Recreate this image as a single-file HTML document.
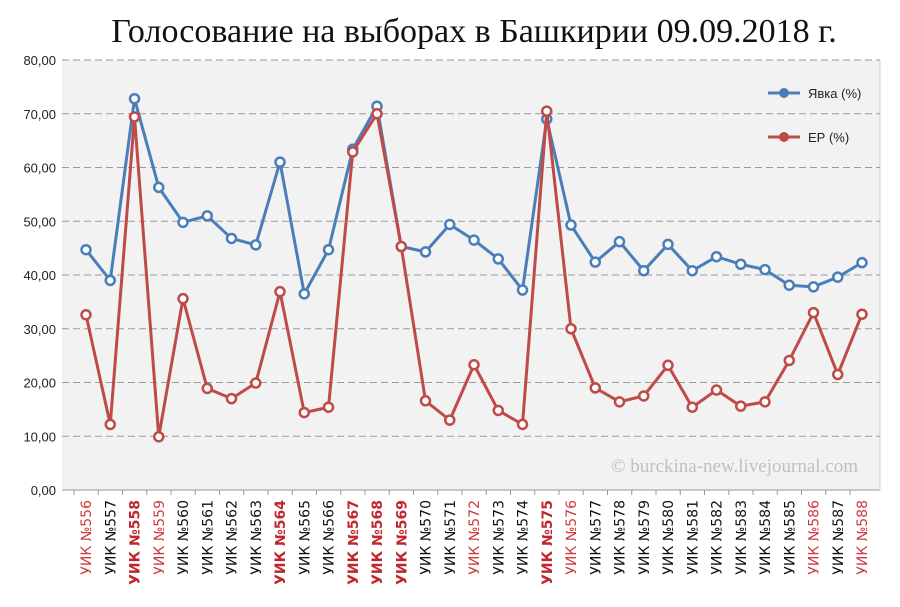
<!DOCTYPE html>
<html><head><meta charset="utf-8"><style>
body{margin:0;background:#fff;width:900px;height:602px;overflow:hidden}
svg{font-family:"Liberation Sans","DejaVu Sans",sans-serif}
</style></head><body>
<svg id="c" width="900" height="602">
<text x="474" y="42" text-anchor="middle" font-family="Liberation Serif, serif" font-size="34" fill="#111">Голосование на выборах в Башкирии 09.09.2018 г.</text>
<rect x="62" y="60" width="818" height="430" fill="#f2f2f2"/>
<line x1="880" y1="60" x2="880" y2="490" stroke="#d0d0d0"/>
<g id="grid"></g><g id="xl"></g><g id="lines"></g>
<text x="858" y="472" text-anchor="end" font-family="Liberation Serif, serif" font-size="19" fill="#c0c0c0">© burckina-new.livejournal.com</text>
<g>
<line x1="768" y1="93" x2="800" y2="93" stroke="#4a7ebb" stroke-width="3"/><circle cx="784" cy="93" r="5" fill="#4a7ebb"/>
<text x="808" y="98" font-size="13" fill="#222">Явка (%)</text>
<line x1="768" y1="137" x2="800" y2="137" stroke="#be4b48" stroke-width="3"/><circle cx="784" cy="137" r="5" fill="#be4b48"/>
<text x="808" y="142" font-size="13" fill="#222">ЕР (%)</text>
</g>
</svg>
<script>
const categories=[556,557,558,559,560,561,562,563,564,565,566,567,568,569,570,571,572,573,574,575,576,577,578,579,580,581,582,583,584,585,586,587,588];
const turnout=[44.7,39,72.8,56.3,49.8,51,46.8,45.6,61,36.5,44.7,63.4,71.4,45.3,44.3,49.4,46.5,43,37.2,69,49.3,42.4,46.2,40.8,45.7,40.8,43.4,42,41,38.1,37.8,39.6,42.3];
const ep=[32.6,12.2,69.4,9.9,35.6,18.9,17,19.9,36.9,14.4,15.4,62.9,70,45.3,16.6,13,23.3,14.8,12.2,70.5,30,19,16.4,17.5,23.2,15.4,18.6,15.6,16.4,24.1,33,21.5,32.7];
const yTicks=[0,10,20,30,40,50,60,70,80];
const redCats=[556,559,572,576,586,588];
const boldCats=[558,564,567,568,569,575];
const NS='http://www.w3.org/2000/svg';
const x0=86,x1=862,yb=490,yt=60;
const xS=i=>x0+(x1-x0)*i/(categories.length-1);
const yS=v=>yb-(yb-yt)*v/80;
function mk(t,a,p){const e=document.createElementNS(NS,t);for(const k in a)e.setAttribute(k,a[k]);p.appendChild(e);return e;}
const grid=document.getElementById('grid');
yTicks.forEach(v=>{
 const l=mk('line',{x1:62,x2:880,y1:yS(v),y2:yS(v),stroke:v===0?'#999':'#9a9a9a','stroke-dasharray':v===0?'':'7,4','stroke-width':1},grid);
 
 
 const t=mk('text',{x:56,y:yS(v)+5,'text-anchor':'end','font-size':13,fill:'#222'},grid);
 t.textContent=v.toFixed(2).replace('.',',');
 
 
});
const xl=document.getElementById('xl');
categories.forEach((c,i)=>{
 const x=xS(i);
 const tk=mk('line',{x1:x-12,x2:x-12,y1:490,y2:495,stroke:'#999'},xl);
 
 
 const bold=boldCats.includes(c);
 const red=redCats.includes(c)||bold;
 const t=mk('text',{transform:`translate(${x+5},500) rotate(-90)`,'text-anchor':'end','font-size':14,'font-family':'DejaVu Sans, sans-serif',fill:red?(bold?'#c0272d':'#d0393e'):'#111','font-weight':bold?'bold':'normal'},xl);
 t.textContent='УИК №'+c;
 
 
});
const lines=document.getElementById('lines');
function series(vals,color,name){
 const g=mk('g',{},lines);
 
 
 const p=mk('polyline',{points:vals.map((v,i)=>xS(i)+','+yS(v)).join(' '),fill:'none',stroke:color,'stroke-width':3,'stroke-linejoin':'round'},g);
 
 
 vals.forEach((v,i)=>{
  const c=mk('circle',{cx:xS(i),cy:yS(v),r:4.5,fill:'#fff',stroke:color,'stroke-width':2.5},g);
  
  
 });
}
series(turnout,'#4a7ebb','turnout');
series(ep,'#be4b48','ep');
</script>
</body></html>
